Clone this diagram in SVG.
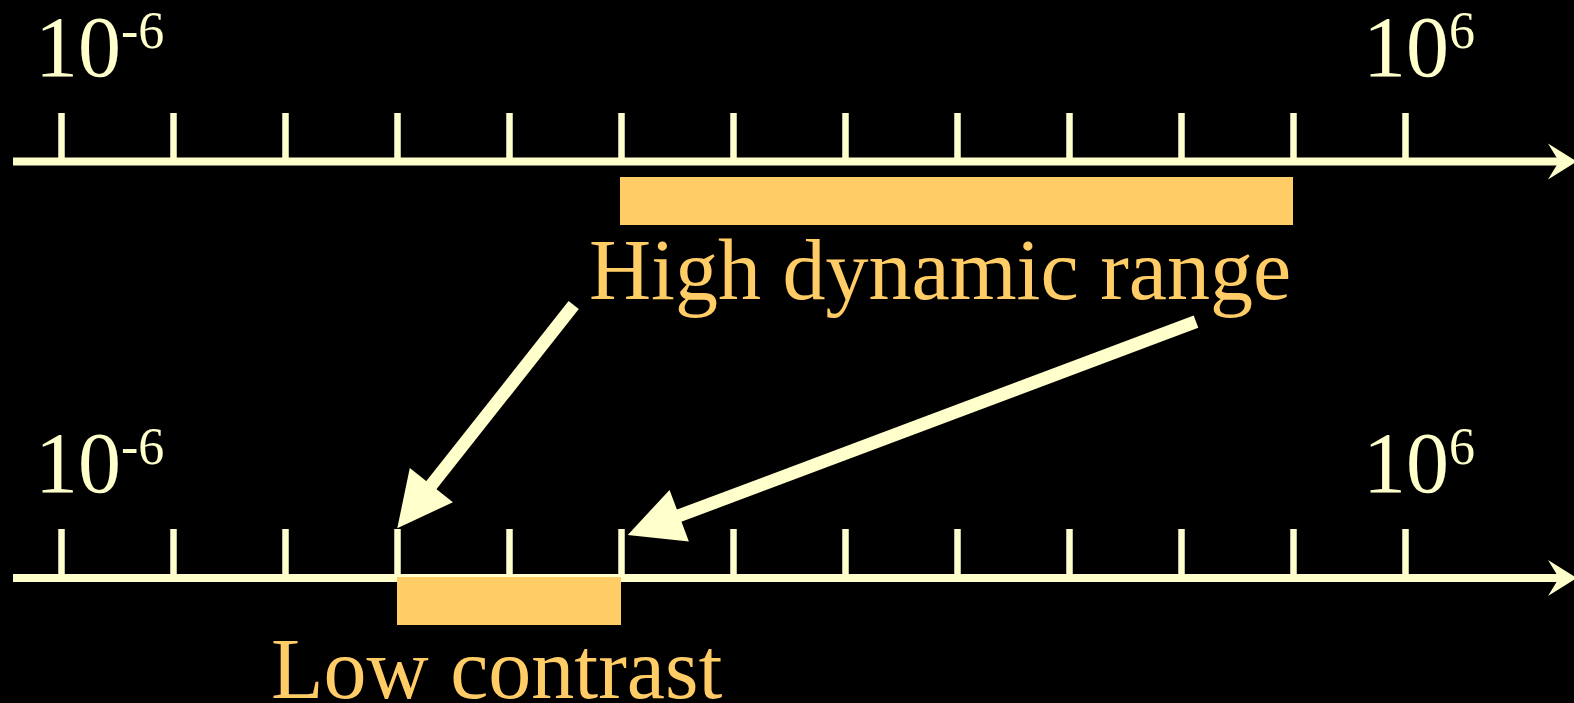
<svg xmlns="http://www.w3.org/2000/svg" width="1574" height="703" viewBox="0 0 1574 703">
  <style>
    .axis { stroke: #FFFFCC; stroke-width: 8; fill: none; }
    .tick { stroke: #FFFFCC; stroke-width: 6.5; }
    .arrow { stroke: #FFFFCC; stroke-width: 13; stroke-linecap: butt; fill: none; }
    .num { font-family: "Liberation Serif", "Times New Roman", serif; font-size: 86px; fill: #FFFFCC; }
    .sup { font-size: 52px; }
    .label { font-family: "Liberation Serif", "Times New Roman", serif; font-size: 86px; fill: #FFCC66; }
    .bar { fill: #FFCC66; }
  </style>
  <defs>
    <marker id="axisHead" markerUnits="userSpaceOnUse" viewBox="0 0 29 36" refX="11" refY="18" markerWidth="29" markerHeight="36" orient="auto" overflow="visible">
      <path d="M0,0 L29,18 L0,36 L11,18 Z" fill="#FFFFCC"/>
    </marker>
    <marker id="bigHead" markerUnits="userSpaceOnUse" viewBox="0 0 55 55" refX="3" refY="27.5" markerWidth="55" markerHeight="55" orient="auto" overflow="visible">
      <path d="M0,0 L55,27.5 L0,55 Z" fill="#FFFFCC"/>
    </marker>
  </defs>
  <rect x="0" y="0" width="1574" height="703" fill="#000000"/>

  <g id="axis-top">
    <line class="axis" x1="13" y1="161.5" x2="1559" y2="161.5" marker-end="url(#axisHead)"/>
    <g class="tick">
      <line x1="61.5" y1="113" x2="61.5" y2="161"/>
      <line x1="173.5" y1="113" x2="173.5" y2="161"/>
      <line x1="285.5" y1="113" x2="285.5" y2="161"/>
      <line x1="397.5" y1="113" x2="397.5" y2="161"/>
      <line x1="509.5" y1="113" x2="509.5" y2="161"/>
      <line x1="621.5" y1="113" x2="621.5" y2="161"/>
      <line x1="733.5" y1="113" x2="733.5" y2="161"/>
      <line x1="845.5" y1="113" x2="845.5" y2="161"/>
      <line x1="957.5" y1="113" x2="957.5" y2="161"/>
      <line x1="1069.5" y1="113" x2="1069.5" y2="161"/>
      <line x1="1181.5" y1="113" x2="1181.5" y2="161"/>
      <line x1="1293.5" y1="113" x2="1293.5" y2="161"/>
      <line x1="1405.5" y1="113" x2="1405.5" y2="161"/>
    </g>
    <text class="num" x="35" y="76">10<tspan class="sup" dy="-28">-6</tspan></text>
    <text class="num" x="1363" y="76">10<tspan class="sup" dy="-28">6</tspan></text>
  </g>

  <g id="high-dynamic-range">
    <rect class="bar" x="620" y="177" width="673" height="48"/>
    <text class="label" x="589" y="299">High dynamic range</text>
  </g>

  <g id="axis-bottom">
    <line class="axis" x1="13" y1="578" x2="1559" y2="578" marker-end="url(#axisHead)"/>
    <g class="tick">
      <line x1="61.5" y1="529" x2="61.5" y2="577"/>
      <line x1="173.5" y1="529" x2="173.5" y2="577"/>
      <line x1="285.5" y1="529" x2="285.5" y2="577"/>
      <line x1="397.5" y1="529" x2="397.5" y2="577"/>
      <line x1="509.5" y1="529" x2="509.5" y2="577"/>
      <line x1="621.5" y1="529" x2="621.5" y2="577"/>
      <line x1="733.5" y1="529" x2="733.5" y2="577"/>
      <line x1="845.5" y1="529" x2="845.5" y2="577"/>
      <line x1="957.5" y1="529" x2="957.5" y2="577"/>
      <line x1="1069.5" y1="529" x2="1069.5" y2="577"/>
      <line x1="1181.5" y1="529" x2="1181.5" y2="577"/>
      <line x1="1293.5" y1="529" x2="1293.5" y2="577"/>
      <line x1="1405.5" y1="529" x2="1405.5" y2="577"/>
    </g>
    <text class="num" x="35" y="492">10<tspan class="sup" dy="-28">-6</tspan></text>
    <text class="num" x="1363" y="492">10<tspan class="sup" dy="-28">6</tspan></text>
  </g>

  <g id="low-contrast">
    <rect class="bar" x="397" y="577" width="224" height="48"/>
    <text class="label" x="271" y="698">Low contrast</text>
  </g>

  <g id="connectors">
    <line class="arrow" x1="573.7" y1="305" x2="429.5" y2="487.5" marker-end="url(#bigHead)"/>
    <line class="arrow" x1="1196" y1="321.7" x2="676.4" y2="516.7" marker-end="url(#bigHead)"/>
  </g>
</svg>
